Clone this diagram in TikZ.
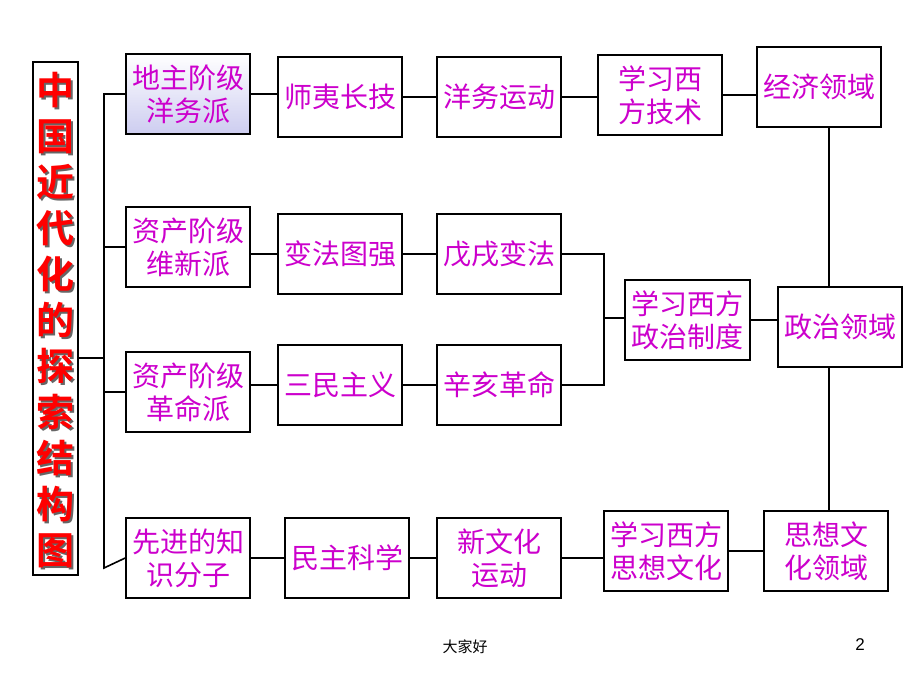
\documentclass[tikz,border=0pt]{standalone}
\usepackage{fontspec}
\newfontfamily\cjk{Noto Sans CJK SC}
\newfontfamily\cjkb{Noto Sans CJK SC Bold}
\newfontfamily\lsans{Liberation Sans}
\definecolor{mag}{RGB}{204,0,204}
\begin{document}
\begin{tikzpicture}[x=1pt,y=-1pt,
 bx/.style={draw,line width=1.6pt,minimum width=124pt,minimum height=80pt,inner sep=0pt,align=center,font=\cjk\fontsize{28}{33}\selectfont,text=mag},
 ln/.style={line width=1.6pt}]
\fill[white] (0,0) rectangle (920,690);
\useasboundingbox (0,0) rectangle (920,690);
\node[draw,line width=1.6pt,minimum width=45pt,minimum height=513pt,inner sep=0pt] (t) at (55.5,318.5) {};
\node[font=\cjkb\fontsize{38}{46}\selectfont,text=black!60,align=center] (ts) at (57.5,322.5) {中\\国\\近\\代\\化\\的\\探\\索\\结\\构\\图};
\node[font=\cjkb\fontsize{38}{46}\selectfont,text=red,align=center] (tt) at (55.5,320.5) {中\\国\\近\\代\\化\\的\\探\\索\\结\\构\\图};
\node[bx,top color=white,bottom color={rgb,255:red,205;green,205;blue,240}] (a1) at (188,94) {地主阶级\\洋务派};
\node[bx] (a2) at (340,97) {师夷长技};
\node[bx] (a3) at (499,97) {洋务运动};
\node[bx] (a4) at (660,95) {学习西\\方技术};
\node[bx] (a5) at (819,87) {经济领域};
\node[bx] (b1) at (188,247) {资产阶级\\维新派};
\node[bx] (b2) at (340,254) {变法图强};
\node[bx] (b3) at (499,254) {戊戌变法};
\node[bx,minimum width=125pt] (p) at (687.5,320) {学习西方\\政治制度};
\node[bx] (p2) at (840,327) {政治领域};
\node[bx] (c1) at (188,392) {资产阶级\\革命派};
\node[bx] (c2) at (340,385) {三民主义};
\node[bx] (c3) at (499,385) {辛亥革命};
\node[bx] (d1) at (188,558) {先进的知\\识分子};
\node[bx] (d2) at (347,558) {民主科学};
\node[bx] (d3) at (499,558) {新文化\\运动};
\node[bx] (d4) at (666,551) {学习西方\\思想文化};
\node[bx] (d5) at (826,551) {思想文\\化领域};
\coordinate (tr) at (104,358);
\draw[ln] (t.east |- tr) -- (tr);
\draw[ln] (a1.west) -| (104,568) -- (d1.west);
\draw[ln] (b1.west) -- (b1.west -| tr);
\draw[ln] (c1.west) -- (c1.west -| tr);
\draw[ln] (a1.east) -- (a1.east -| a2.west);
\draw[ln] (a2) -- (a3);
\draw[ln] (a3.east) -- (a3.east -| a4.west);
\draw[ln] (a4.east) -- (a4.east -| a5.west);
\draw[ln] (b1.east |- b2) -- (b2) -- (b3);
\draw[ln] (c1.east |- c2) -- (c2) -- (c3);
\draw[ln] (b3.east) -- (604,254) -- (604,385) -- (c3.east);
\draw[ln] (604,318) -- (p.west |- 604,318);
\draw[ln] (p.east) -- (p2.west |- p.east);
\draw[ln] (d1) -- (d2) -- (d3);
\draw[ln] (d3.east) -- (d3.east -| d4.west);
\draw[ln] (d4) -- (d5);
\draw[ln] (829,127) -- (829,287) (829,367) -- (829,511);
\node[font=\cjk\fontsize{15}{15}\selectfont] (f1) at (465,647) {大家好};
\node[font=\lsans\fontsize{17}{17}\selectfont] (f2) at (860,645) {2};
\end{tikzpicture}
\end{document}
